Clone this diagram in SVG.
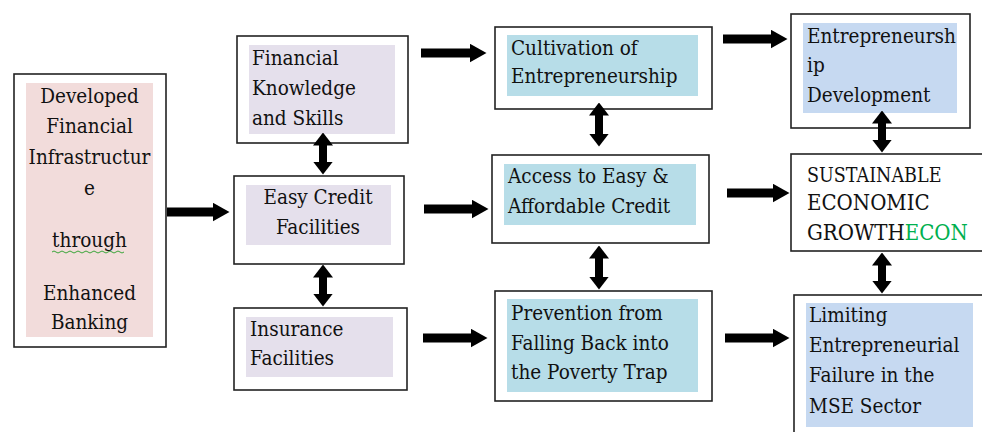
<svg xmlns="http://www.w3.org/2000/svg" width="982" height="432" viewBox="0 0 982 432">
<style>
.box{fill:#fff;stroke:#222;stroke-width:1.6}
.pink{fill:#f2dcdb}
.lav{fill:#e5e0ec}
.blue{fill:#b7dde8}
.steel{fill:#c6d9f1}
text{font-family:'DejaVu Serif Condensed','DejaVu Serif','Liberation Serif',serif;font-stretch:condensed;font-size:20.5px;fill:#111}
.c{text-anchor:middle}
.sm{font-size:19.5px}
.cap{font-size:22px}
.green{fill:#00b050}
.h{stroke:#000;stroke-width:9;fill:none;marker-end:url(#hh)}
.v{stroke:#000;stroke-width:8;fill:none;marker-start:url(#vh);marker-end:url(#vh)}
</style>
<defs>
<marker id="hh" markerUnits="userSpaceOnUse" viewBox="0 0 17 19" markerWidth="17" markerHeight="19" refX="0.5" refY="9.5" orient="auto"><path d="M0,0 L17,9.5 L0,19 Z" fill="#000"/></marker>
<marker id="vh" markerUnits="userSpaceOnUse" viewBox="0 0 13 20" markerWidth="13" markerHeight="20" refX="0.5" refY="10" orient="auto-start-reverse"><path d="M0,0 L13,10 L0,20 Z" fill="#000"/></marker>
</defs>

<g id="n-infra">
<rect class="box" x="14" y="74" width="152" height="273"/>
<rect class="pink" x="26" y="83" width="127" height="254"/>
<text class="c" x="89.5" y="103">Developed</text>
<text class="c" x="89.5" y="133">Financial</text>
<text class="c" x="89.5" y="164">Infrastructur</text>
<text class="c" x="89.5" y="195">e</text>
<text class="c" x="89.5" y="247">through</text>
<path d="M52,252 q2,-2 4,0 t4,0 t4,0 t4,0 t4,0 t4,0 t4,0 t4,0 t4,0 t4,0 t4,0 t4,0 t4,0 t4,0 t4,0 t4,0 t4,0 t4,0" fill="none" stroke="#3aa53a" stroke-width="1"/>
<text class="c" x="89.5" y="300">Enhanced</text>
<text class="c" x="89.5" y="329">Banking</text>
</g>

<g id="n-knowledge">
<rect class="box" x="237" y="36" width="171" height="107"/>
<rect class="lav" x="249" y="45" width="146" height="89"/>
<text x="252" y="65">Financial</text>
<text x="252" y="95">Knowledge</text>
<text x="252" y="125">and Skills</text>
</g>

<g id="n-credit">
<rect class="box" x="234" y="176" width="170" height="88"/>
<rect class="lav" x="246" y="185" width="145" height="60"/>
<text class="c" x="318" y="204">Easy Credit</text>
<text class="c" x="318" y="234">Facilities</text>
</g>

<g id="n-insurance">
<rect class="box" x="234" y="308" width="173" height="82"/>
<rect class="lav" x="246" y="317" width="147" height="60"/>
<text x="250" y="336">Insurance</text>
<text x="250" y="365">Facilities</text>
</g>

<g id="n-cultivation">
<rect class="box" x="495" y="27" width="217" height="82"/>
<rect class="blue" x="507" y="35" width="191" height="61"/>
<text x="511" y="55">Cultivation of</text>
<text x="511" y="83">Entrepreneurship</text>
</g>

<g id="n-access">
<rect class="box" x="492" y="155" width="217" height="88"/>
<rect class="blue" x="504" y="164" width="192" height="61"/>
<text x="508" y="183">Access to Easy &amp;</text>
<text x="508" y="213">Affordable Credit</text>
</g>

<g id="n-prevention">
<rect class="box" x="495" y="291" width="217" height="110"/>
<rect class="blue" x="507" y="299" width="191" height="93"/>
<text x="511" y="320">Prevention from</text>
<text x="511" y="350">Falling Back into</text>
<text x="511" y="379">the Poverty Trap</text>
</g>

<g id="n-entdev">
<rect class="box" x="791" y="14" width="179" height="114"/>
<rect class="steel" x="803" y="23" width="154" height="90"/>
<text x="807" y="43">Entrepreneursh</text>
<text x="807" y="72">ip</text>
<text x="807" y="102">Development</text>
</g>

<g id="n-growth">
<rect class="box" x="791" y="154" width="200" height="97"/>
<text class="sm" x="807" y="182">SUSTAINABLE</text>
<text class="cap" x="807" y="210">ECONOMIC</text>
<text class="cap" x="807" y="240">GROWTH<tspan class="green">ECON</tspan></text>
</g>

<g id="n-limiting">
<rect class="box" x="794" y="295" width="200" height="150"/>
<rect class="steel" x="806" y="303" width="167" height="124"/>
<text x="809" y="322">Limiting</text>
<text x="809" y="352">Entrepreneurial</text>
<text x="809" y="382">Failure in the</text>
<text x="809" y="413">MSE Sector</text>
</g>

<g id="connectors">
<line class="h" x1="167" y1="212" x2="213" y2="212"/>
<line class="h" x1="421" y1="53" x2="470" y2="53"/>
<line class="h" x1="424" y1="209" x2="472" y2="209"/>
<line class="h" x1="423" y1="338" x2="471" y2="338"/>
<line class="h" x1="723" y1="39" x2="771" y2="39"/>
<line class="h" x1="727" y1="193" x2="773" y2="193"/>
<line class="h" x1="725" y1="338" x2="773" y2="338"/>
<line class="v" x1="323" y1="145" x2="323" y2="162"/>
<line class="v" x1="323" y1="277" x2="323" y2="294"/>
<line class="v" x1="599" y1="115" x2="599" y2="134"/>
<line class="v" x1="599" y1="258" x2="599" y2="277"/>
<line class="v" x1="882" y1="123" x2="882" y2="140"/>
<line class="v" x1="882" y1="265" x2="882" y2="281"/>
</g>
</svg>
